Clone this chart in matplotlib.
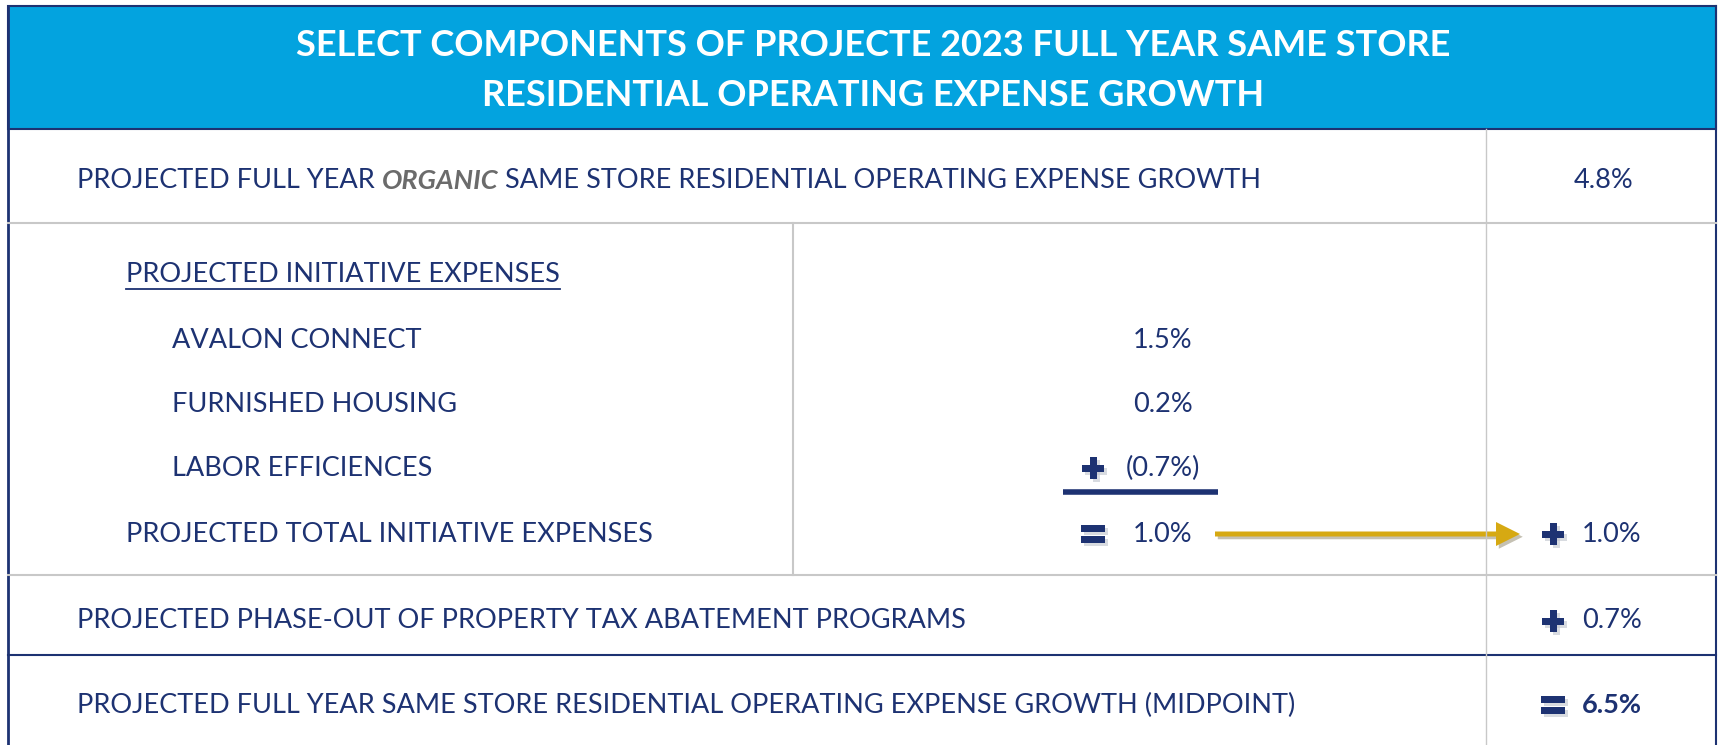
import matplotlib
matplotlib.use("Agg")
import matplotlib.pyplot as plt
from matplotlib.patches import Rectangle, FancyArrow
import matplotlib.patheffects as pe

# ---- data ----
title_lines = ["SELECT COMPONENTS OF PROJECTE 2023 FULL YEAR SAME STORE",
               "RESIDENTIAL OPERATING EXPENSE GROWTH"]
organic_value = "4.8%"
initiative_header = "PROJECTED INITIATIVE EXPENSES"
initiative_items = ["AVALON CONNECT", "FURNISHED HOUSING", "LABOR EFFICIENCES"]
initiative_values = [1.5, 0.2, -0.7]
initiative_total_label = "PROJECTED TOTAL INITIATIVE EXPENSES"
initiative_total = 1.0
phaseout_label = "PROJECTED PHASE-OUT OF PROPERTY TAX ABATEMENT PROGRAMS"
phaseout_value = 0.7
midpoint_label = "PROJECTED FULL YEAR SAME STORE RESIDENTIAL OPERATING EXPENSE GROWTH (MIDPOINT)"
midpoint_value = 6.5

def fmt(v):
    return f"({abs(v):.1f}%)" if v < 0 else f"{v:.1f}%"

NAVY = "#1d3272"
BLUE = "#03a3df"
GRID = "#c8c8c8"
GOLD = "#d6a912"
FONT = "Lato"

W, H = 1723, 745
fig = plt.figure(figsize=(W / 100, H / 100), dpi=100)
ax = fig.add_axes([0, 0, 1, 1])
ax.set_xlim(0, W)
ax.set_ylim(H, 0)
ax.axis("off")

# header
ax.add_patch(Rectangle((8, 6), 1708, 123, facecolor=BLUE, edgecolor=NAVY, lw=1.5))
for i, line in enumerate(title_lines):
    ax.text(873, 46 + i * 50, line, color="white", fontsize=26, fontweight="bold",
            family=FONT, ha="center", va="center")

# outer border
ax.plot([8, 8], [6, H], color=NAVY, lw=2)
ax.plot([1716, 1716], [6, H], color=NAVY, lw=1.5)

# grid lines
ax.plot([8, 1716], [223, 223], color=GRID, lw=1.5)
ax.plot([8, 1716], [575, 575], color=GRID, lw=1.5)
ax.plot([8, 1716], [655, 655], color=NAVY, lw=1.5)
ax.plot([1486, 1486], [129, H], color=GRID, lw=1)
ax.plot([793, 793], [223, 575], color=GRID, lw=1.5)

fs = 19.5
dy0 = 3
tx = dict(color=NAVY, fontsize=fs, family=FONT, va="center")

# row 1 (organic)
y1 = 178 + dy0
t1 = ax.text(77, y1, "PROJECTED FULL YEAR ", **tx)
fig.canvas.draw()
r = fig.canvas.get_renderer()
def right_of(t):
    bb = t.get_window_extent(renderer=r)
    return ax.transData.inverted().transform((bb.x1, 0))[0]
t2 = ax.text(right_of(t1), y1, "ORGANIC", color="#6b6b6b", fontsize=fs, family=FONT,
             fontweight="bold", style="italic", va="center")
t3 = ax.text(right_of(t2), y1, " SAME STORE RESIDENTIAL OPERATING EXPENSE GROWTH", **tx)
ax.text(1604, y1, organic_value, ha="center", **tx)

# initiative section
h = ax.text(126, 272 + dy0, initiative_header, **tx)
bb = h.get_window_extent(renderer=r)
x0 = ax.transData.inverted().transform((bb.x0, 0))[0]
x1 = ax.transData.inverted().transform((bb.x1, 0))[0]
ax.plot([x0, x1], [289, 289], color=NAVY, lw=1.3)

ys = [337, 401, 465]
for lab, v, y in zip(initiative_items, initiative_values, ys):
    ax.text(172, y + dy0, lab, **tx)
    ax.text(1163, y + dy0, fmt(v), ha="center", **tx)

def plus(cx, cy, s=22, t=7):
    ax.add_patch(Rectangle((cx - s / 2 + 3, cy - t / 2 + 3), s, t, color="#bfc3cc", alpha=0.6, lw=0))
    ax.add_patch(Rectangle((cx - t / 2 + 3, cy - s / 2 + 3), t, s, color="#bfc3cc", alpha=0.6, lw=0))
    ax.add_patch(Rectangle((cx - s / 2, cy - t / 2), s, t, color=NAVY, lw=0))
    ax.add_patch(Rectangle((cx - t / 2, cy - s / 2), t, s, color=NAVY, lw=0))

def equals(cx, cy, s=24, t=7, gap=4):
    for dy in (-gap / 2 - t, gap / 2):
        ax.add_patch(Rectangle((cx - s / 2 + 3, cy + dy + 3), s, t, color="#bfc3cc", alpha=0.6, lw=0))
        ax.add_patch(Rectangle((cx - s / 2, cy + dy), s, t, color=NAVY, lw=0))

ycenter = [y + dy0 for y in ys]
plus(1093, ycenter[2])
ax.plot([1063, 1218], [492, 492], color=NAVY, lw=4, solid_capstyle="butt")

yt = 531 + dy0
ax.text(126, yt, initiative_total_label, **tx)
equals(1093, yt)
ax.text(1163, yt, fmt(initiative_total), ha="center", **tx)

# gold arrow
ax.add_patch(FancyArrow(1215, yt, 305, 0, width=5, head_width=24, head_length=24,
                        length_includes_head=True, color=GOLD, lw=0,
                        path_effects=[pe.withSimplePatchShadow(offset=(2, -2), alpha=0.3)]))
plus(1553, yt)
ax.text(1612, yt, fmt(initiative_total), ha="center", **tx)

# phase-out row
yp = 618 + dy0
ax.text(77, yp, phaseout_label, **tx)
plus(1553, yp)
ax.text(1612, yp, fmt(phaseout_value), ha="center", **tx)

# midpoint row
ym = 702 + dy0
ax.text(77, ym, midpoint_label, **tx)
equals(1553, ym)
ax.text(1612, ym, fmt(midpoint_value), ha="center", fontweight="bold", **tx)

fig.savefig("out.png", dpi=100)
